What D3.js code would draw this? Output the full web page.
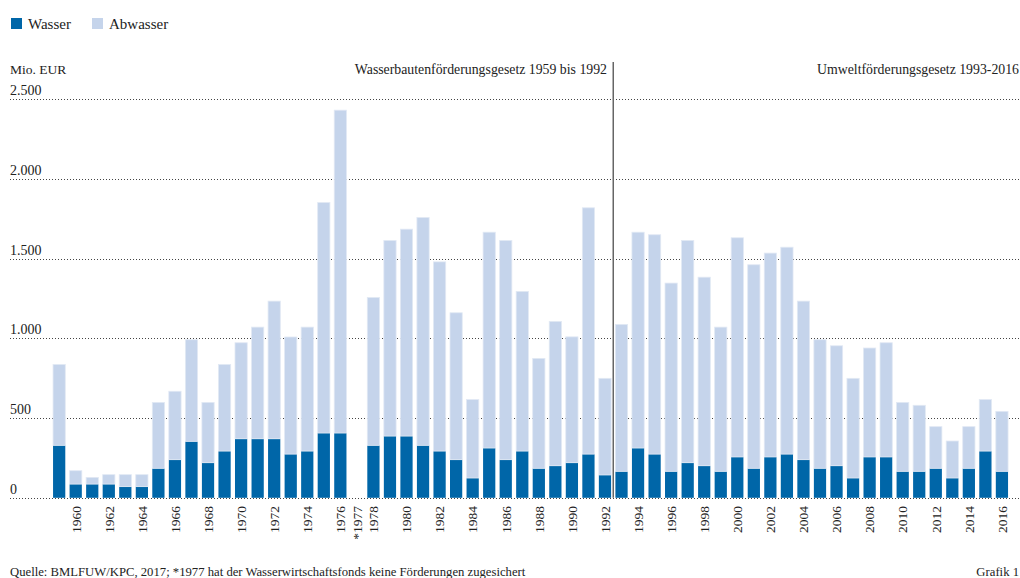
<!DOCTYPE html>
<html lang="de">
<head>
    <meta charset="utf-8">
    <title>Wasser / Abwasser Förderungen</title>
    <script src="https://d3js.org/d3.v7.min.js"></script>
    <style>
        body{
            margin: 0;
            background-color: white;
        }
        svg{
            display: block;
            font-family: "Liberation Serif", "DejaVu Serif", serif;
        }
        .grid line{
            stroke: #444;
            stroke-dasharray: 1,2;
        }
    </style>
</head>
<body>
<div id="chart"></div>
<script>

// years 1959-2016 (1977: no funding)
var years = d3.range(1959, 2017)

// Mio. EUR
var wasser = [
    329, 86, 86, 86, 70, 70, 185, 239, 354, 220,
    293, 370, 370, 370, 274, 293, 406, 406, 0, 329,
    387, 387, 329, 293, 239, 124, 312, 239, 293, 185,
    201, 220, 274, 143, 166, 312, 274, 166, 220, 201,
    166, 256, 185, 256, 274, 239, 185, 201, 124, 256,
    256, 166, 166, 185, 124, 185, 293, 166
]
var abwasser = [
    507, 84, 42, 59, 75, 75, 413, 429, 637, 378,
    543, 602, 700, 863, 734, 777, 1445, 2024, 0, 927,
    1226, 1297, 1428, 1186, 921, 492, 1353, 1374, 1001, 689,
    905, 789, 1544, 606, 921, 1353, 1375, 1180, 1393, 1182,
    904, 1374, 1276, 1278, 1297, 994, 806, 752, 625, 683,
    716, 432, 414, 261, 232, 261, 323, 376
]

var yTicks = [0, 500, 1000, 1500, 2000, 2500]
var tickLabels = ["0", "500", "1.000", "1.500", "2.000", "2.500"]
var seriesNames = ["Wasser", "Abwasser"]
var colors = ["#0066a8", "#c5d4eb"]

var width = 1020, height = 578

var svg = d3.select("#chart")
    .append("svg")
    .attr("width", width)
    .attr("height", height)

var table = years.map((y, i) => ({year: y, Wasser: wasser[i], Abwasser: abwasser[i]}))

var x = d3.scaleBand()
    .domain(years)
    .range([50.9, 1010.2])
    .paddingInner(0.26)
    .paddingOuter(0.13)

var y = d3.scaleLinear()
    .domain([0, 2500])
    .range([497.8, 99])

// dotted gridlines
svg.append("g")
    .attr("class", "grid")
    .selectAll("line")
    .data(yTicks)
    .enter()
    .append("line")
        .attr("x1", 10)
        .attr("x2", 1020)
        .attr("y1", d => Math.round(y(d)) + 0.5)
        .attr("y2", d => Math.round(y(d)) + 0.5)

// tick labels
svg.append("g")
    .selectAll("text")
    .data(yTicks)
    .enter()
    .append("text")
        .attr("x", 10)
        .attr("y", d => y(d) - 4)
        .attr("fill", "#222")
        .style("font-size", "14px")
        .text((d, i) => tickLabels[i])

// stacked bars
var stacked = d3.stack().keys(seriesNames)(table)

svg.append("g")
    .selectAll("g")
    .data(stacked)
    .enter()
    .append("g")
        .attr("fill", (d, i) => colors[i])
        .attr("stroke", (d, i) => i == 1 ? "#e2e9f4" : "none")
        .attr("stroke-width", 0.8)
    .selectAll("rect")
    .data(d => d.filter(p => p[1] > p[0]))
    .enter()
    .append("rect")
        .attr("x", d => x(d.data.year))
        .attr("width", x.bandwidth())
        .attr("y", d => y(d[1]))
        .attr("height", d => y(d[0]) - y(d[1]))

// separator between the two laws
var sepX = x(1992) + x.bandwidth() + (x.step() - x.bandwidth()) / 2
svg.append("line")
    .attr("x1", sepX)
    .attr("x2", sepX)
    .attr("y1", 62)
    .attr("y2", y(0))
    .attr("stroke", "#666")
    .attr("stroke-width", 1.5)

// x labels: even years plus *1977
var labelYears = years.filter(d => d % 2 == 0 || d == 1977)
svg.append("g")
    .selectAll("text")
    .data(labelYears)
    .enter()
    .append("text")
        .attr("transform", d => "translate(" + (x(d) + x.bandwidth() / 2 + 4.8) + ",506) rotate(-90)")
        .attr("text-anchor", "end")
        .attr("fill", "#222")
        .style("font-size", "13.5px")
        .text(d => d == 1977 ? "*1977" : d)

// legend
var legend = svg.append("g")
legend.selectAll("rect")
    .data(seriesNames)
    .enter()
    .append("rect")
        .attr("x", (d, i) => [11, 92][i])
        .attr("y", 18)
        .attr("width", 11)
        .attr("height", 11)
        .attr("fill", (d, i) => colors[i])
legend.selectAll("text")
    .data(seriesNames)
    .enter()
    .append("text")
        .attr("x", (d, i) => [28, 109][i])
        .attr("y", 29)
        .attr("fill", "#222")
        .style("font-size", "15px")
        .text(d => d)

// header texts
svg.append("text")
    .attr("x", 10)
    .attr("y", 74)
    .attr("fill", "#222")
    .style("font-size", "13.5px")
    .text("Mio. EUR")

svg.append("text")
    .attr("x", 607)
    .attr("y", 74)
    .attr("text-anchor", "end")
    .attr("fill", "#222")
    .style("font-size", "13.8px")
    .text("Wasserbautenförderungsgesetz 1959 bis 1992")

svg.append("text")
    .attr("x", 1019)
    .attr("y", 74)
    .attr("text-anchor", "end")
    .attr("fill", "#222")
    .style("font-size", "13.8px")
    .text("Umweltförderungsgesetz 1993-2016")

// footer
svg.append("text")
    .attr("x", 10)
    .attr("y", 576)
    .attr("fill", "#222")
    .style("font-size", "12.7px")
    .text("Quelle: BMLFUW/KPC, 2017;  *1977 hat der Wasserwirtschaftsfonds keine Förderungen zugesichert")

svg.append("text")
    .attr("x", 1019)
    .attr("y", 576)
    .attr("text-anchor", "end")
    .attr("fill", "#222")
    .style("font-size", "12.7px")
    .text("Grafik 1")

</script>
</body>
</html>
